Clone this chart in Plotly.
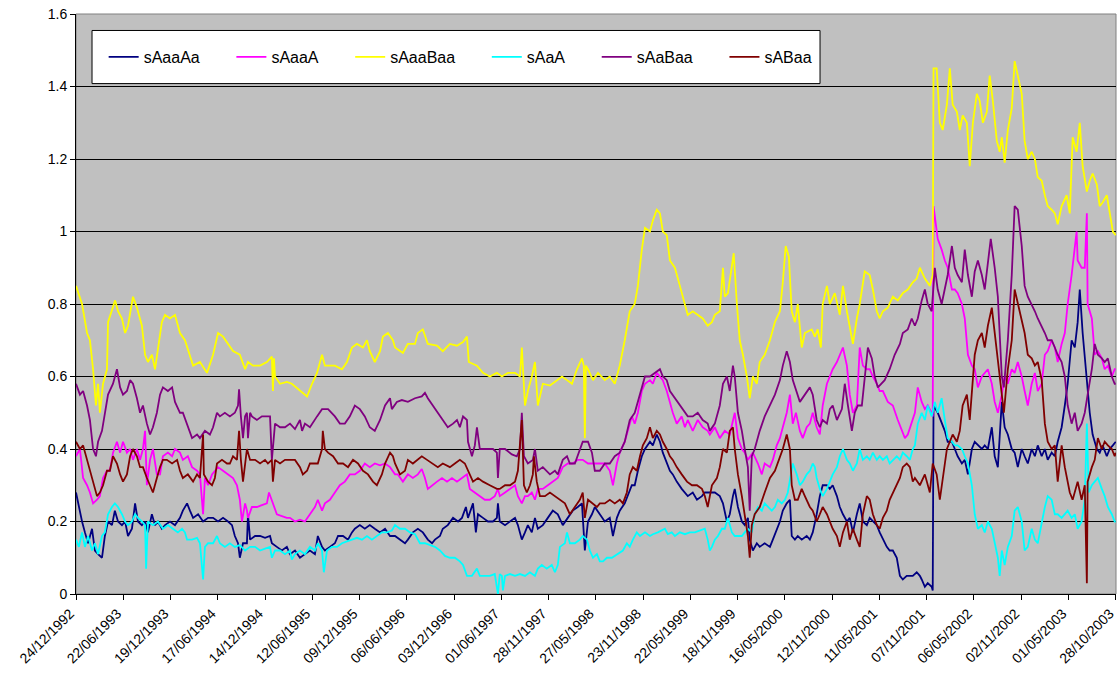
import pandas as pd
import plotly.graph_objects as go

# Spread series: (days since 24/12/1992, value)
sAaaAa = [
    (0, 0.28), (11, 0.24), (23, 0.20), (34, 0.17), (46, 0.14), (61, 0.18), (72, 0.12), (84, 0.11), (99, 0.10), (110, 0.16),
    (122, 0.20), (137, 0.19), (148, 0.23), (160, 0.20), (175, 0.19), (187, 0.20), (198, 0.16), (213, 0.18), (225, 0.25), (236, 0.20),
    (251, 0.19), (263, 0.20), (274, 0.17), (289, 0.22), (301, 0.19), (312, 0.20), (327, 0.18), (339, 0.19), (358, 0.20), (377, 0.19),
    (396, 0.21), (407, 0.23), (423, 0.25), (434, 0.23), (446, 0.21), (465, 0.22), (484, 0.20), (503, 0.21), (522, 0.21), (541, 0.20),
    (560, 0.21), (579, 0.20), (594, 0.19), (605, 0.16), (617, 0.14), (624, 0.10), (636, 0.14), (651, 0.14), (655, 0.22), (663, 0.15),
    (682, 0.16), (701, 0.16), (720, 0.155), (739, 0.16), (746, 0.14), (765, 0.13), (784, 0.12), (803, 0.13), (815, 0.11), (834, 0.12),
    (853, 0.10), (872, 0.11), (891, 0.12), (910, 0.11), (921, 0.16), (937, 0.13), (948, 0.12), (967, 0.13), (986, 0.14), (998, 0.16),
    (1017, 0.16), (1036, 0.15), (1051, 0.17), (1062, 0.18), (1081, 0.19), (1100, 0.18), (1119, 0.19), (1138, 0.18), (1158, 0.17), (1177, 0.18),
    (1196, 0.16), (1215, 0.16), (1234, 0.15), (1253, 0.14), (1264, 0.15), (1283, 0.17), (1302, 0.18), (1321, 0.17), (1340, 0.15), (1356, 0.14),
    (1367, 0.15), (1386, 0.16), (1397, 0.18), (1416, 0.19), (1436, 0.21), (1455, 0.20), (1470, 0.21), (1485, 0.24), (1493, 0.21), (1512, 0.25),
    (1523, 0.17), (1531, 0.22), (1550, 0.21), (1569, 0.20), (1588, 0.20), (1603, 0.21), (1607, 0.25), (1614, 0.20), (1634, 0.19), (1653, 0.20),
    (1672, 0.21), (1683, 0.19), (1698, 0.15), (1710, 0.17), (1721, 0.19), (1736, 0.17), (1748, 0.21), (1759, 0.18), (1778, 0.19), (1797, 0.21),
    (1816, 0.23), (1835, 0.22), (1854, 0.19), (1873, 0.21), (1892, 0.23), (1911, 0.24), (1927, 0.25), (1938, 0.12), (1950, 0.20), (1965, 0.22),
    (1976, 0.24), (1995, 0.22), (2014, 0.20), (2033, 0.21), (2045, 0.16), (2060, 0.21), (2071, 0.23), (2090, 0.25), (2102, 0.27), (2117, 0.30),
    (2128, 0.30), (2140, 0.34), (2155, 0.38), (2167, 0.40), (2186, 0.42), (2197, 0.41), (2212, 0.44), (2224, 0.42), (2235, 0.39), (2250, 0.36),
    (2262, 0.34), (2273, 0.33), (2288, 0.31), (2307, 0.29), (2319, 0.28), (2330, 0.27), (2349, 0.28), (2365, 0.26), (2384, 0.27), (2395, 0.28),
    (2414, 0.28), (2433, 0.28), (2452, 0.27), (2464, 0.25), (2479, 0.20), (2490, 0.22), (2502, 0.27), (2509, 0.29), (2521, 0.24), (2536, 0.20),
    (2547, 0.19), (2559, 0.21), (2566, 0.15), (2578, 0.12), (2593, 0.14), (2604, 0.13), (2623, 0.14), (2643, 0.13), (2654, 0.15), (2669, 0.18),
    (2681, 0.20), (2692, 0.23), (2707, 0.25), (2719, 0.26), (2726, 0.16), (2738, 0.15), (2749, 0.16), (2764, 0.15), (2783, 0.16), (2795, 0.15),
    (2806, 0.17), (2821, 0.22), (2833, 0.27), (2844, 0.30), (2860, 0.30), (2871, 0.29), (2882, 0.30), (2898, 0.27), (2909, 0.24), (2921, 0.22),
    (2936, 0.20), (2947, 0.21), (2959, 0.17), (2974, 0.22), (2985, 0.25), (2997, 0.20), (3012, 0.19), (3023, 0.21), (3035, 0.20), (3050, 0.19),
    (3061, 0.17), (3073, 0.15), (3088, 0.13), (3099, 0.12), (3111, 0.12), (3126, 0.10), (3138, 0.05), (3149, 0.04), (3164, 0.05), (3176, 0.05),
    (3187, 0.05), (3202, 0.06), (3214, 0.05), (3221, 0.04), (3233, 0.02), (3244, 0.03), (3259, 0.02), (3263, 0.01), (3266, 0.52), (3282, 0.50),
    (3297, 0.47), (3309, 0.45), (3320, 0.42), (3336, 0.42), (3347, 0.40), (3358, 0.38), (3374, 0.36), (3385, 0.37), (3397, 0.33), (3412, 0.40),
    (3423, 0.42), (3435, 0.41), (3450, 0.40), (3461, 0.41), (3473, 0.40), (3488, 0.46), (3499, 0.38), (3511, 0.35), (3526, 0.53), (3537, 0.46),
    (3549, 0.44), (3564, 0.40), (3575, 0.39), (3587, 0.35), (3602, 0.40), (3613, 0.38), (3625, 0.36), (3640, 0.40), (3652, 0.38), (3663, 0.41),
    (3678, 0.38), (3690, 0.40), (3701, 0.37), (3716, 0.39), (3728, 0.38), (3739, 0.42), (3754, 0.46), (3766, 0.52), (3777, 0.58), (3792, 0.70),
    (3804, 0.68), (3815, 0.75), (3823, 0.84), (3834, 0.72), (3850, 0.58), (3861, 0.50), (3872, 0.44), (3888, 0.40), (3899, 0.39), (3910, 0.41),
    (3926, 0.38), (3937, 0.40), (3949, 0.41), (3960, 0.42),
]

sAaaA = [
    (0, 0.38), (15, 0.40), (27, 0.32), (42, 0.30), (53, 0.28), (65, 0.25), (80, 0.26), (91, 0.27), (103, 0.32), (118, 0.34),
    (129, 0.34), (141, 0.39), (156, 0.42), (168, 0.39), (179, 0.42), (194, 0.39), (206, 0.40), (217, 0.37), (232, 0.40), (244, 0.37),
    (255, 0.40), (263, 0.45), (270, 0.30), (282, 0.37), (293, 0.40), (308, 0.33), (320, 0.33), (331, 0.38), (350, 0.39), (366, 0.38),
    (377, 0.40), (396, 0.39), (407, 0.37), (426, 0.38), (442, 0.35), (461, 0.34), (472, 0.33), (484, 0.22), (491, 0.32), (503, 0.30),
    (518, 0.33), (529, 0.34), (541, 0.35), (560, 0.34), (579, 0.33), (598, 0.32), (613, 0.30), (624, 0.26), (632, 0.20), (644, 0.25),
    (651, 0.23), (655, 0.21), (670, 0.24), (689, 0.24), (708, 0.245), (727, 0.25), (735, 0.28), (750, 0.25), (765, 0.22), (784, 0.215),
    (803, 0.21), (815, 0.21), (834, 0.20), (853, 0.205), (872, 0.20), (891, 0.22), (910, 0.24), (921, 0.26), (937, 0.23), (948, 0.25),
    (967, 0.26), (986, 0.28), (1005, 0.30), (1024, 0.31), (1043, 0.33), (1062, 0.33), (1081, 0.34), (1100, 0.36), (1119, 0.35), (1138, 0.36),
    (1158, 0.355), (1177, 0.36), (1196, 0.35), (1215, 0.33), (1226, 0.33), (1245, 0.31), (1264, 0.33), (1283, 0.32), (1302, 0.33), (1317, 0.345),
    (1329, 0.32), (1340, 0.29), (1356, 0.30), (1375, 0.31), (1394, 0.32), (1413, 0.31), (1432, 0.32), (1451, 0.31), (1470, 0.32), (1489, 0.33),
    (1500, 0.29), (1519, 0.28), (1538, 0.27), (1557, 0.26), (1576, 0.26), (1595, 0.27), (1607, 0.29), (1614, 0.27), (1634, 0.28), (1653, 0.29),
    (1672, 0.30), (1683, 0.27), (1698, 0.25), (1710, 0.27), (1721, 0.27), (1736, 0.28), (1748, 0.26), (1759, 0.29), (1778, 0.29), (1797, 0.30),
    (1816, 0.31), (1835, 0.32), (1854, 0.35), (1873, 0.36), (1892, 0.36), (1911, 0.37), (1930, 0.37), (1950, 0.36), (1976, 0.36), (1995, 0.36),
    (2014, 0.36), (2033, 0.34), (2045, 0.30), (2060, 0.36), (2071, 0.39), (2090, 0.42), (2102, 0.45), (2117, 0.49), (2128, 0.47), (2140, 0.50),
    (2155, 0.56), (2167, 0.58), (2186, 0.59), (2197, 0.58), (2212, 0.61), (2224, 0.60), (2235, 0.59), (2250, 0.56), (2262, 0.53), (2273, 0.50),
    (2288, 0.47), (2307, 0.49), (2319, 0.46), (2330, 0.48), (2349, 0.45), (2368, 0.48), (2387, 0.46), (2406, 0.45), (2414, 0.44), (2433, 0.46),
    (2452, 0.43), (2471, 0.45), (2490, 0.44), (2509, 0.50), (2521, 0.43), (2536, 0.40), (2547, 0.39), (2559, 0.37), (2578, 0.39), (2597, 0.36),
    (2612, 0.33), (2623, 0.36), (2643, 0.35), (2654, 0.37), (2669, 0.41), (2681, 0.43), (2692, 0.46), (2707, 0.50), (2719, 0.55), (2730, 0.47),
    (2742, 0.50), (2757, 0.45), (2768, 0.43), (2783, 0.46), (2795, 0.47), (2806, 0.50), (2821, 0.46), (2833, 0.44), (2844, 0.52), (2860, 0.58),
    (2871, 0.60), (2882, 0.62), (2898, 0.64), (2909, 0.66), (2921, 0.68), (2936, 0.63), (2947, 0.55), (2959, 0.50), (2974, 0.52), (2985, 0.68),
    (2997, 0.63), (3012, 0.62), (3023, 0.62), (3035, 0.60), (3050, 0.58), (3061, 0.56), (3073, 0.56), (3092, 0.53), (3111, 0.52), (3130, 0.48),
    (3145, 0.45), (3157, 0.43), (3168, 0.44), (3183, 0.47), (3195, 0.50), (3206, 0.57), (3221, 0.53), (3233, 0.51), (3244, 0.52), (3259, 0.50),
    (3263, 0.49), (3266, 1.07), (3282, 0.98), (3297, 0.95), (3309, 0.92), (3320, 0.90), (3336, 0.84), (3347, 0.84), (3358, 0.83), (3374, 0.80),
    (3385, 0.76), (3397, 0.66), (3412, 0.63), (3423, 0.62), (3435, 0.57), (3450, 0.60), (3461, 0.61), (3473, 0.62), (3488, 0.58), (3499, 0.53),
    (3511, 0.50), (3526, 0.55), (3537, 0.60), (3549, 0.58), (3564, 0.62), (3575, 0.61), (3587, 0.64), (3602, 0.60), (3613, 0.56), (3625, 0.52),
    (3640, 0.58), (3652, 0.61), (3663, 0.56), (3678, 0.58), (3690, 0.66), (3701, 0.67), (3716, 0.70), (3728, 0.68), (3739, 0.64), (3754, 0.69),
    (3766, 0.72), (3777, 0.80), (3792, 0.88), (3804, 0.95), (3811, 1.00), (3815, 0.92), (3830, 0.90), (3842, 0.90), (3850, 1.05), (3853, 0.80),
    (3869, 0.76), (3880, 0.66), (3892, 0.67), (3907, 0.65), (3918, 0.62), (3930, 0.63), (3945, 0.60), (3956, 0.62), (3960, 0.62),
]

sAaaBaa = [
    (0, 0.85), (23, 0.80), (42, 0.72), (53, 0.70), (65, 0.62), (76, 0.52), (84, 0.58), (91, 0.50), (103, 0.58), (118, 0.62),
    (122, 0.75), (137, 0.78), (149, 0.81), (160, 0.78), (175, 0.76), (187, 0.72), (198, 0.74), (217, 0.82), (232, 0.79), (251, 0.74),
    (263, 0.66), (274, 0.64), (289, 0.66), (301, 0.62), (312, 0.67), (327, 0.75), (339, 0.77), (358, 0.76), (377, 0.77), (388, 0.74),
    (396, 0.72), (415, 0.70), (434, 0.66), (446, 0.63), (472, 0.64), (499, 0.61), (522, 0.66), (541, 0.72), (560, 0.71), (579, 0.69),
    (598, 0.67), (624, 0.66), (644, 0.62), (655, 0.64), (674, 0.63), (701, 0.63), (727, 0.64), (746, 0.655), (750, 0.56), (754, 0.65),
    (758, 0.60), (777, 0.58), (803, 0.585), (822, 0.58), (853, 0.56), (880, 0.545), (899, 0.58), (918, 0.61), (937, 0.66), (948, 0.63),
    (986, 0.63), (1013, 0.62), (1032, 0.64), (1051, 0.68), (1070, 0.69), (1093, 0.68), (1108, 0.70), (1119, 0.67), (1138, 0.64), (1158, 0.67),
    (1169, 0.71), (1188, 0.72), (1207, 0.70), (1215, 0.68), (1245, 0.665), (1264, 0.69), (1291, 0.69), (1302, 0.72), (1321, 0.73), (1340, 0.69),
    (1375, 0.685), (1397, 0.67), (1424, 0.69), (1451, 0.685), (1474, 0.695), (1489, 0.71), (1496, 0.64), (1527, 0.63), (1550, 0.61), (1576, 0.60),
    (1603, 0.61), (1622, 0.60), (1645, 0.61), (1672, 0.61), (1691, 0.60), (1698, 0.68), (1710, 0.52), (1721, 0.56), (1736, 0.60), (1748, 0.64),
    (1759, 0.52), (1778, 0.58), (1805, 0.575), (1824, 0.585), (1851, 0.60), (1870, 0.59), (1889, 0.58), (1908, 0.62), (1927, 0.65), (1934, 0.63),
    (1938, 0.43), (1942, 0.63), (1950, 0.62), (1969, 0.59), (1988, 0.61), (2014, 0.59), (2033, 0.60), (2052, 0.58), (2071, 0.63), (2090, 0.70),
    (2109, 0.78), (2128, 0.80), (2140, 0.85), (2155, 0.95), (2167, 1.01), (2186, 1.00), (2197, 1.03), (2212, 1.06), (2224, 1.05), (2235, 1.00),
    (2250, 0.99), (2262, 0.92), (2281, 0.90), (2300, 0.85), (2319, 0.80), (2330, 0.77), (2349, 0.78), (2368, 0.77), (2387, 0.76), (2406, 0.74),
    (2422, 0.75), (2433, 0.77), (2452, 0.78), (2464, 0.90), (2471, 0.82), (2483, 0.83), (2498, 0.90), (2505, 0.94), (2517, 0.80), (2528, 0.70),
    (2540, 0.66), (2555, 0.60), (2566, 0.54), (2578, 0.60), (2593, 0.58), (2604, 0.64), (2623, 0.66), (2643, 0.70), (2662, 0.75), (2681, 0.78),
    (2692, 0.86), (2703, 0.96), (2715, 0.93), (2726, 0.78), (2738, 0.75), (2749, 0.80), (2764, 0.68), (2776, 0.72), (2802, 0.73), (2814, 0.71),
    (2825, 0.73), (2837, 0.68), (2844, 0.80), (2860, 0.85), (2871, 0.80), (2890, 0.83), (2909, 0.77), (2921, 0.85), (2936, 0.78), (2947, 0.74),
    (2959, 0.69), (2974, 0.76), (2985, 0.80), (3004, 0.89), (3023, 0.88), (3035, 0.84), (3050, 0.78), (3061, 0.76), (3073, 0.78), (3092, 0.79),
    (3111, 0.82), (3130, 0.81), (3149, 0.83), (3168, 0.84), (3187, 0.86), (3202, 0.87), (3214, 0.90), (3233, 0.87), (3252, 0.85), (3263, 0.88),
    (3266, 1.45), (3278, 1.45), (3290, 1.30), (3301, 1.28), (3317, 1.35), (3328, 1.45), (3339, 1.35), (3355, 1.33), (3366, 1.28), (3377, 1.32),
    (3393, 1.30), (3404, 1.18), (3416, 1.30), (3431, 1.38), (3442, 1.36), (3454, 1.30), (3469, 1.33), (3480, 1.43), (3492, 1.36), (3507, 1.25),
    (3518, 1.22), (3526, 1.26), (3537, 1.19), (3549, 1.28), (3564, 1.34), (3575, 1.47), (3587, 1.43), (3602, 1.38), (3613, 1.25), (3625, 1.20),
    (3640, 1.22), (3652, 1.20), (3663, 1.15), (3678, 1.14), (3690, 1.10), (3701, 1.07), (3716, 1.06), (3728, 1.05), (3739, 1.02), (3754, 1.07),
    (3773, 1.10), (3785, 1.05), (3796, 1.26), (3811, 1.22), (3823, 1.30), (3834, 1.18), (3850, 1.11), (3861, 1.14), (3872, 1.16), (3888, 1.13),
    (3899, 1.07), (3910, 1.08), (3926, 1.10), (3937, 1.05), (3949, 1.00), (3960, 0.99),
]

sAaA = [
    (0, 0.15), (11, 0.13), (23, 0.17), (34, 0.13), (46, 0.16), (61, 0.12), (72, 0.14), (84, 0.11), (99, 0.16), (110, 0.17),
    (122, 0.22), (137, 0.24), (148, 0.25), (160, 0.24), (175, 0.22), (187, 0.20), (198, 0.19), (213, 0.20), (225, 0.22), (236, 0.21),
    (251, 0.20), (263, 0.19), (267, 0.07), (274, 0.20), (293, 0.19), (312, 0.20), (331, 0.18), (350, 0.19), (369, 0.18), (388, 0.17),
    (404, 0.18), (415, 0.17), (423, 0.15), (442, 0.15), (461, 0.155), (472, 0.14), (484, 0.04), (491, 0.13), (503, 0.14), (522, 0.14),
    (537, 0.16), (548, 0.14), (567, 0.13), (586, 0.14), (605, 0.13), (624, 0.135), (644, 0.12), (663, 0.13), (682, 0.13), (701, 0.12),
    (720, 0.125), (739, 0.13), (746, 0.10), (758, 0.12), (777, 0.12), (796, 0.11), (815, 0.12), (822, 0.095), (834, 0.11), (853, 0.12),
    (872, 0.11), (891, 0.13), (910, 0.12), (921, 0.14), (937, 0.12), (944, 0.06), (956, 0.12), (975, 0.13), (994, 0.13), (1013, 0.14),
    (1032, 0.145), (1051, 0.15), (1070, 0.155), (1089, 0.15), (1108, 0.16), (1127, 0.15), (1146, 0.16), (1165, 0.17), (1184, 0.17), (1203, 0.175),
    (1215, 0.19), (1234, 0.18), (1253, 0.18), (1272, 0.17), (1291, 0.165), (1310, 0.14), (1329, 0.14), (1348, 0.135), (1367, 0.13), (1386, 0.12),
    (1405, 0.105), (1424, 0.10), (1443, 0.10), (1462, 0.09), (1474, 0.08), (1489, 0.05), (1508, 0.05), (1527, 0.07), (1538, 0.05), (1557, 0.05),
    (1576, 0.05), (1595, 0.055), (1607, 0.00), (1614, 0.055), (1622, 0.05), (1626, 0.01), (1634, 0.05), (1653, 0.055), (1672, 0.05), (1691, 0.055),
    (1710, 0.05), (1729, 0.06), (1748, 0.05), (1759, 0.07), (1774, 0.08), (1793, 0.07), (1812, 0.08), (1824, 0.06), (1835, 0.08), (1843, 0.13),
    (1862, 0.14), (1870, 0.17), (1881, 0.14), (1900, 0.14), (1919, 0.15), (1930, 0.16), (1946, 0.15), (1957, 0.12), (1969, 0.10), (1984, 0.11),
    (1995, 0.09), (2007, 0.09), (2022, 0.10), (2041, 0.10), (2060, 0.11), (2071, 0.115), (2083, 0.12), (2098, 0.14), (2109, 0.13), (2121, 0.15),
    (2136, 0.17), (2148, 0.16), (2167, 0.17), (2186, 0.16), (2197, 0.165), (2216, 0.17), (2231, 0.175), (2243, 0.18), (2254, 0.165), (2269, 0.17),
    (2281, 0.16), (2300, 0.17), (2319, 0.165), (2338, 0.17), (2357, 0.17), (2376, 0.175), (2395, 0.18), (2406, 0.15), (2414, 0.12), (2422, 0.13),
    (2433, 0.15), (2445, 0.16), (2460, 0.18), (2471, 0.18), (2483, 0.21), (2498, 0.17), (2509, 0.16), (2521, 0.16), (2536, 0.16), (2547, 0.17),
    (2559, 0.18), (2574, 0.17), (2585, 0.22), (2597, 0.24), (2612, 0.23), (2623, 0.25), (2635, 0.24), (2650, 0.23), (2662, 0.24), (2673, 0.26),
    (2688, 0.25), (2700, 0.26), (2711, 0.28), (2726, 0.34), (2730, 0.36), (2745, 0.33), (2757, 0.30), (2768, 0.31), (2783, 0.33), (2795, 0.34),
    (2806, 0.36), (2814, 0.35), (2821, 0.32), (2833, 0.29), (2844, 0.27), (2860, 0.29), (2871, 0.31), (2882, 0.33), (2898, 0.35), (2909, 0.38),
    (2921, 0.40), (2936, 0.37), (2947, 0.36), (2959, 0.34), (2974, 0.36), (2985, 0.40), (2997, 0.37), (3012, 0.38), (3023, 0.37), (3035, 0.39),
    (3050, 0.37), (3061, 0.38), (3073, 0.37), (3088, 0.38), (3099, 0.36), (3111, 0.37), (3126, 0.38), (3138, 0.37), (3149, 0.39), (3164, 0.38),
    (3176, 0.37), (3187, 0.40), (3195, 0.41), (3206, 0.47), (3221, 0.50), (3233, 0.48), (3244, 0.52), (3259, 0.49), (3271, 0.53), (3282, 0.50),
    (3297, 0.54), (3309, 0.48), (3320, 0.43), (3336, 0.42), (3347, 0.41), (3358, 0.41), (3374, 0.40), (3385, 0.38), (3397, 0.36), (3412, 0.30),
    (3423, 0.22), (3435, 0.18), (3450, 0.19), (3461, 0.17), (3473, 0.20), (3488, 0.18), (3499, 0.14), (3511, 0.10), (3518, 0.05), (3526, 0.12),
    (3537, 0.08), (3549, 0.13), (3564, 0.16), (3575, 0.23), (3587, 0.24), (3602, 0.20), (3613, 0.12), (3625, 0.13), (3640, 0.18), (3652, 0.15),
    (3663, 0.14), (3678, 0.20), (3690, 0.24), (3701, 0.27), (3716, 0.26), (3728, 0.22), (3739, 0.22), (3754, 0.21), (3766, 0.22), (3777, 0.23),
    (3792, 0.21), (3804, 0.22), (3815, 0.18), (3830, 0.20), (3842, 0.26), (3850, 0.47), (3857, 0.28), (3869, 0.30), (3880, 0.31), (3892, 0.32),
    (3907, 0.29), (3918, 0.27), (3930, 0.24), (3945, 0.22), (3956, 0.20), (3960, 0.20),
]

sAaBaa = [
    (0, 0.58), (15, 0.55), (27, 0.56), (42, 0.52), (53, 0.48), (65, 0.40), (76, 0.38), (84, 0.42), (99, 0.45), (110, 0.50),
    (122, 0.55), (141, 0.58), (156, 0.62), (168, 0.57), (179, 0.55), (194, 0.56), (206, 0.59), (217, 0.58), (232, 0.54), (244, 0.50),
    (255, 0.52), (270, 0.47), (282, 0.44), (293, 0.46), (308, 0.50), (320, 0.55), (331, 0.57), (350, 0.56), (366, 0.57), (377, 0.53),
    (396, 0.50), (407, 0.50), (423, 0.47), (442, 0.43), (461, 0.44), (472, 0.43), (491, 0.45), (510, 0.44), (522, 0.46), (537, 0.50),
    (548, 0.49), (567, 0.50), (586, 0.49), (605, 0.50), (617, 0.52), (621, 0.565), (628, 0.49), (636, 0.43), (644, 0.49), (651, 0.50),
    (655, 0.43), (663, 0.50), (670, 0.49), (689, 0.48), (708, 0.49), (727, 0.49), (739, 0.49), (746, 0.37), (758, 0.47), (777, 0.46),
    (796, 0.46), (815, 0.47), (834, 0.455), (853, 0.48), (861, 0.45), (872, 0.47), (891, 0.46), (918, 0.49), (937, 0.51), (960, 0.51),
    (986, 0.49), (1005, 0.47), (1024, 0.47), (1043, 0.49), (1062, 0.52), (1081, 0.51), (1100, 0.49), (1119, 0.46), (1138, 0.45), (1158, 0.48),
    (1177, 0.52), (1196, 0.54), (1203, 0.51), (1222, 0.53), (1241, 0.535), (1264, 0.53), (1291, 0.54), (1317, 0.545), (1329, 0.555), (1340, 0.54),
    (1359, 0.52), (1378, 0.50), (1397, 0.48), (1416, 0.46), (1436, 0.47), (1451, 0.48), (1462, 0.46), (1474, 0.49), (1489, 0.48), (1493, 0.42),
    (1508, 0.38), (1519, 0.41), (1527, 0.46), (1538, 0.40), (1565, 0.40), (1588, 0.40), (1603, 0.39), (1607, 0.32), (1614, 0.40), (1634, 0.40),
    (1660, 0.385), (1679, 0.38), (1691, 0.40), (1698, 0.50), (1706, 0.38), (1721, 0.36), (1740, 0.37), (1748, 0.40), (1759, 0.34), (1778, 0.35),
    (1805, 0.33), (1824, 0.34), (1835, 0.33), (1854, 0.37), (1870, 0.38), (1881, 0.36), (1900, 0.36), (1919, 0.40), (1930, 0.42), (1950, 0.42),
    (1965, 0.39), (1976, 0.34), (1995, 0.34), (2014, 0.36), (2033, 0.36), (2052, 0.38), (2071, 0.39), (2090, 0.42), (2109, 0.48), (2128, 0.50),
    (2140, 0.53), (2155, 0.57), (2167, 0.60), (2186, 0.60), (2205, 0.61), (2224, 0.62), (2235, 0.60), (2250, 0.59), (2262, 0.56), (2281, 0.54),
    (2300, 0.52), (2319, 0.50), (2330, 0.49), (2349, 0.49), (2368, 0.50), (2387, 0.48), (2406, 0.47), (2414, 0.45), (2433, 0.47), (2452, 0.52),
    (2464, 0.58), (2479, 0.60), (2490, 0.56), (2502, 0.63), (2509, 0.60), (2521, 0.50), (2536, 0.45), (2547, 0.40), (2559, 0.35), (2566, 0.23),
    (2574, 0.38), (2585, 0.40), (2604, 0.45), (2623, 0.49), (2643, 0.52), (2662, 0.55), (2681, 0.59), (2692, 0.63), (2707, 0.67), (2719, 0.64),
    (2730, 0.59), (2745, 0.56), (2757, 0.53), (2776, 0.55), (2795, 0.57), (2806, 0.55), (2821, 0.48), (2833, 0.46), (2844, 0.48), (2860, 0.47),
    (2871, 0.51), (2882, 0.52), (2898, 0.48), (2917, 0.51), (2928, 0.58), (2940, 0.52), (2955, 0.45), (2966, 0.50), (2978, 0.52), (2993, 0.52),
    (3004, 0.59), (3016, 0.68), (3031, 0.65), (3042, 0.60), (3054, 0.57), (3069, 0.58), (3080, 0.59), (3099, 0.62), (3118, 0.66), (3138, 0.69),
    (3149, 0.72), (3168, 0.73), (3183, 0.76), (3195, 0.74), (3206, 0.76), (3221, 0.81), (3233, 0.84), (3244, 0.80), (3259, 0.78), (3271, 0.90),
    (3282, 0.84), (3297, 0.80), (3309, 0.84), (3320, 0.88), (3336, 0.96), (3347, 0.90), (3358, 0.88), (3374, 0.86), (3385, 0.95), (3397, 0.88),
    (3412, 0.82), (3423, 0.89), (3435, 0.92), (3450, 0.88), (3461, 0.84), (3473, 0.92), (3484, 0.98), (3499, 0.90), (3511, 0.82), (3526, 0.60),
    (3534, 0.57), (3549, 0.70), (3564, 0.88), (3575, 1.07), (3587, 1.06), (3602, 0.96), (3613, 0.85), (3625, 0.82), (3640, 0.80), (3652, 0.78),
    (3663, 0.76), (3678, 0.74), (3690, 0.72), (3701, 0.70), (3716, 0.70), (3728, 0.68), (3739, 0.66), (3754, 0.64), (3766, 0.60), (3777, 0.52),
    (3792, 0.47), (3804, 0.50), (3815, 0.45), (3830, 0.47), (3842, 0.50), (3853, 0.55), (3869, 0.62), (3880, 0.69), (3892, 0.66), (3907, 0.65),
    (3918, 0.64), (3930, 0.65), (3945, 0.60), (3956, 0.58), (3960, 0.58),
]

sABaa = [
    (0, 0.42), (15, 0.40), (27, 0.41), (42, 0.37), (53, 0.34), (65, 0.31), (80, 0.27), (91, 0.28), (103, 0.30), (118, 0.34),
    (129, 0.34), (141, 0.38), (156, 0.36), (168, 0.33), (179, 0.31), (194, 0.33), (206, 0.38), (217, 0.40), (232, 0.38), (244, 0.35),
    (255, 0.35), (270, 0.32), (282, 0.30), (293, 0.28), (308, 0.32), (320, 0.35), (331, 0.37), (346, 0.37), (366, 0.36), (385, 0.37),
    (396, 0.34), (407, 0.32), (426, 0.33), (446, 0.31), (461, 0.33), (472, 0.32), (484, 0.44), (487, 0.33), (503, 0.31), (518, 0.30),
    (529, 0.32), (537, 0.36), (556, 0.37), (575, 0.36), (586, 0.36), (598, 0.38), (613, 0.37), (621, 0.45), (628, 0.37), (636, 0.31),
    (651, 0.40), (663, 0.37), (682, 0.37), (701, 0.36), (720, 0.37), (731, 0.36), (746, 0.37), (750, 0.31), (758, 0.37), (777, 0.36),
    (796, 0.37), (815, 0.37), (834, 0.37), (853, 0.35), (864, 0.33), (880, 0.34), (891, 0.36), (902, 0.36), (921, 0.36), (937, 0.40),
    (940, 0.45), (948, 0.40), (960, 0.39), (979, 0.38), (998, 0.36), (1017, 0.36), (1036, 0.35), (1055, 0.37), (1074, 0.36), (1093, 0.34),
    (1112, 0.33), (1131, 0.31), (1146, 0.30), (1165, 0.33), (1177, 0.36), (1196, 0.39), (1207, 0.38), (1215, 0.36), (1234, 0.33), (1253, 0.34),
    (1264, 0.37), (1283, 0.36), (1302, 0.37), (1317, 0.38), (1337, 0.37), (1359, 0.36), (1378, 0.35), (1397, 0.36), (1424, 0.35), (1443, 0.36),
    (1462, 0.37), (1481, 0.36), (1500, 0.33), (1512, 0.31), (1531, 0.32), (1550, 0.31), (1576, 0.30), (1603, 0.29), (1614, 0.29), (1634, 0.30),
    (1653, 0.30), (1672, 0.31), (1683, 0.34), (1698, 0.48), (1706, 0.30), (1717, 0.28), (1729, 0.30), (1740, 0.33), (1744, 0.38), (1755, 0.31),
    (1767, 0.27), (1786, 0.27), (1805, 0.28), (1824, 0.27), (1843, 0.26), (1862, 0.25), (1881, 0.22), (1900, 0.24), (1919, 0.26), (1930, 0.28),
    (1938, 0.21), (1950, 0.26), (1969, 0.25), (1984, 0.24), (1995, 0.25), (2014, 0.25), (2033, 0.26), (2052, 0.25), (2071, 0.26), (2083, 0.25),
    (2098, 0.28), (2109, 0.33), (2121, 0.35), (2136, 0.34), (2148, 0.38), (2159, 0.41), (2174, 0.43), (2186, 0.46), (2197, 0.43), (2212, 0.45),
    (2224, 0.44), (2235, 0.42), (2250, 0.40), (2262, 0.38), (2273, 0.37), (2288, 0.35), (2307, 0.33), (2327, 0.31), (2346, 0.30), (2365, 0.30),
    (2384, 0.29), (2395, 0.27), (2406, 0.24), (2422, 0.30), (2441, 0.32), (2452, 0.35), (2464, 0.40), (2479, 0.39), (2490, 0.45), (2502, 0.46),
    (2509, 0.40), (2521, 0.33), (2536, 0.27), (2547, 0.22), (2559, 0.16), (2566, 0.10), (2574, 0.19), (2585, 0.22), (2604, 0.24), (2623, 0.28),
    (2643, 0.32), (2662, 0.34), (2681, 0.38), (2692, 0.40), (2707, 0.44), (2719, 0.40), (2726, 0.30), (2738, 0.26), (2749, 0.26), (2764, 0.29),
    (2776, 0.27), (2795, 0.24), (2806, 0.23), (2821, 0.20), (2833, 0.22), (2844, 0.24), (2860, 0.22), (2871, 0.20), (2882, 0.18), (2898, 0.16),
    (2909, 0.13), (2921, 0.17), (2936, 0.20), (2947, 0.15), (2959, 0.18), (2974, 0.15), (2985, 0.13), (2997, 0.22), (3012, 0.27), (3023, 0.26),
    (3035, 0.22), (3050, 0.19), (3061, 0.18), (3073, 0.21), (3088, 0.23), (3099, 0.26), (3111, 0.28), (3126, 0.30), (3138, 0.32), (3149, 0.35),
    (3164, 0.36), (3176, 0.35), (3187, 0.31), (3195, 0.32), (3214, 0.30), (3233, 0.33), (3252, 0.28), (3263, 0.36), (3278, 0.33), (3290, 0.26),
    (3301, 0.32), (3317, 0.40), (3328, 0.42), (3339, 0.44), (3355, 0.42), (3366, 0.45), (3377, 0.52), (3393, 0.55), (3404, 0.48), (3416, 0.58),
    (3423, 0.66), (3435, 0.70), (3450, 0.72), (3461, 0.68), (3473, 0.74), (3488, 0.79), (3499, 0.72), (3511, 0.64), (3526, 0.56), (3534, 0.50),
    (3549, 0.62), (3564, 0.70), (3575, 0.84), (3587, 0.80), (3602, 0.75), (3613, 0.72), (3625, 0.66), (3640, 0.65), (3652, 0.63), (3663, 0.64),
    (3678, 0.59), (3690, 0.47), (3701, 0.42), (3716, 0.40), (3728, 0.41), (3739, 0.31), (3754, 0.41), (3766, 0.35), (3785, 0.28), (3796, 0.26),
    (3815, 0.31), (3830, 0.26), (3842, 0.30), (3850, 0.03), (3853, 0.31), (3869, 0.35), (3880, 0.37), (3892, 0.43), (3907, 0.40), (3918, 0.42),
    (3930, 0.41), (3945, 0.40), (3956, 0.38), (3960, 0.39),
]

tick_labels = [
    "24/12/1992", "22/06/1993", "19/12/1993", "17/06/1994", "14/12/1994", "12/06/1995",
    "09/12/1995", "06/06/1996", "03/12/1996", "01/06/1997", "28/11/1997", "27/05/1998",
    "23/11/1998", "22/05/1999", "18/11/1999", "16/05/2000", "12/11/2000", "11/05/2001",
    "07/11/2001", "06/05/2002", "02/11/2002", "01/05/2003", "28/10/2003",
]

series = [
    ("sAaaAa", sAaaAa, "#000080"),
    ("sAaaA", sAaaA, "#FF00FF"),
    ("sAaaBaa", sAaaBaa, "#FFFF00"),
    ("sAaA", sAaA, "#00FFFF"),
    ("sAaBaa", sAaBaa, "#800080"),
    ("sABaa", sABaa, "#800000"),
]

start = pd.Timestamp("1992-12-24")
tick_dates = pd.to_datetime(tick_labels, format="%d/%m/%Y")

FONT = "Liberation Sans, Arial, sans-serif"
LEGEND_PAD = "\u00a0" * 6  # extra room after each legend label

fig = go.Figure()
for name, pts, color in series:
    days = [p[0] for p in pts]
    vals = [p[1] for p in pts]
    x = start + pd.to_timedelta(days, unit="D")
    fig.add_trace(go.Scatter(
        x=x, y=vals, mode="lines", name=name + LEGEND_PAD,
        line=dict(color=color, width=1.8),
        hovertemplate=name + ": %{y:.2f}<br>%{x|%d/%m/%Y}<extra></extra>",
    ))

fig.update_layout(
    width=1120, height=684,
    margin=dict(l=76, r=4, t=14, b=90, autoexpand=False),
    paper_bgcolor="white",
    plot_bgcolor="#C0C0C0",
    font=dict(family=FONT, size=14, color="black"),
    showlegend=True,
    legend=dict(
        orientation="h",
        x=0.0266, y=0.926, xanchor="left", yanchor="middle",
        bgcolor="rgba(0,0,0,0)", borderwidth=0,
        font=dict(family=FONT, size=16, color="black"),
        traceorder="normal",
    ),
    xaxis=dict(
        type="date",
        range=[start, tick_dates[-1] + pd.Timedelta(days=1)],
        tickmode="array", tickvals=tick_dates, ticktext=tick_labels,
        tickangle=-45, ticks="outside", ticklen=5, tickcolor="black",
        ticklabeloverflow="allow", ticklabelshift=-6, automargin=False,
        showline=True, linecolor="black", linewidth=1,
        showgrid=False, zeroline=False,
        tickfont=dict(family=FONT, size=14, color="black"),
    ),
    yaxis=dict(
        range=[0, 1.6], tick0=0, dtick=0.2,
        ticks="outside", ticklen=5, tickcolor="black",
        automargin=False,
        showline=True, linecolor="black", linewidth=1,
        showgrid=True, gridcolor="black", gridwidth=1,
        zeroline=False,
        tickfont=dict(family=FONT, size=14, color="black"),
    ),
    shapes=[
        # plot-area frame
        dict(type="rect", xref="paper", yref="paper", x0=0, x1=1, y0=0, y1=1,
             line=dict(color="#808080", width=1), layer="below"),
        # legend box
        dict(type="rect", xref="paper", yref="paper",
             x0=0.0154, x1=0.7154, y0=0.880, y1=0.9716,
             line=dict(color="black", width=1), fillcolor="white", layer="above"),
    ],
)

fig.write_html("out.html")
